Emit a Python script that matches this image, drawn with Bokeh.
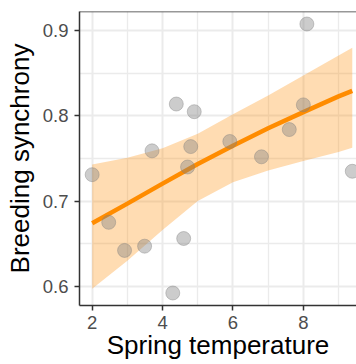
import numpy as np
from bokeh.plotting import figure
from bokeh.models import Range1d, FixedTicker, Span
from bokeh.embed import file_html
from bokeh.resources import INLINE

# Observations: spring temperature vs. breeding synchrony
spring_temp = [2.00, 2.47, 2.92, 3.49, 4.29, 3.70, 4.39, 4.90, 4.80, 4.71,
               4.60, 5.91, 6.81, 7.60, 8.00, 8.10, 9.39]
synchrony = [0.731, 0.675, 0.642, 0.647, 0.592, 0.759, 0.814, 0.805, 0.764,
             0.740, 0.656, 0.770, 0.752, 0.784, 0.813, 0.908, 0.735]

# Smoothed trend and its confidence band, sampled along the temperature axis
smooth_x = [2.0, 3.0, 4.0, 5.0, 6.0, 7.0, 8.0, 9.0, 9.39]
smooth_y = [0.674, 0.697, 0.7205, 0.7435, 0.765, 0.7855, 0.8045, 0.823, 0.8295]
band_upper = [0.743, 0.751, 0.762, 0.779, 0.802, 0.824, 0.8475, 0.871, 0.880]
band_lower = [0.597, 0.630, 0.666, 0.700, 0.722, 0.736, 0.747, 0.7575, 0.7625]

x_ticks = [2, 4, 6, 8]
x_minor = [3, 5, 7, 9]
y_ticks = [0.6, 0.7, 0.8, 0.9]
y_minor = [0.65, 0.75, 0.85]

FONT = "Liberation Sans"
DARK = "#333333"
Y_TOP = 0.9227

p = figure(width=356, height=364, output_backend="svg", toolbar_location=None,
           x_range=Range1d(1.64, 9.51), y_range=Range1d(0.5773, Y_TOP),
           min_border_left=79, min_border_right=0, min_border_top=11,
           min_border_bottom=59)
p.outline_line_color = None
p.background_fill_color = "white"
p.border_fill_color = "white"

# grid
for g in (p.xgrid, p.ygrid):
    g.grid_line_color = "#EBEBEB"
    g.grid_line_width = 2
    g.minor_grid_line_color = "#EBEBEB"
    g.minor_grid_line_width = 1.3

p.xaxis.ticker = FixedTicker(ticks=x_ticks, minor_ticks=x_minor)
p.yaxis.ticker = FixedTicker(ticks=y_ticks, minor_ticks=y_minor)
p.xaxis.axis_label = "Spring temperature"
p.yaxis.axis_label = "Breeding synchrony"

for ax in (p.xaxis, p.yaxis):
    ax.axis_line_color = DARK
    ax.axis_line_width = 1.5
    ax.major_tick_line_color = DARK
    ax.major_tick_line_width = 1.5
    ax.major_tick_in = 0
    ax.major_tick_out = 5
    ax.minor_tick_line_color = None
    ax.major_label_text_font = FONT
    ax.major_label_text_font_size = "18.5px"
    ax.major_label_text_color = "#4D4D4D"
    ax.axis_label_text_font = FONT
    ax.axis_label_text_font_size = "26px"
    ax.axis_label_text_font_style = "normal"
    ax.axis_label_text_color = "black"

p.xaxis.major_label_standoff = 5
p.xaxis.axis_label_standoff = -2
p.yaxis.major_label_standoff = 6
p.yaxis.axis_label_standoff = 5

# top border of the panel
p.add_layout(Span(location=Y_TOP, dimension="width", line_color=DARK, line_width=1.5))

# confidence band, trend line, points
p.varea(x=smooth_x, y1=band_lower, y2=band_upper, fill_color="#FF8C00", fill_alpha=0.3)
p.line(smooth_x, smooth_y, line_color="#FF8C00", line_width=4.5)
p.scatter(spring_temp, synchrony, size=14, fill_color="#7F7F7F", fill_alpha=0.4,
          line_color="#7F7F7F", line_alpha=0.4, line_width=1)

open("out.html", "w").write(file_html(p, INLINE))
